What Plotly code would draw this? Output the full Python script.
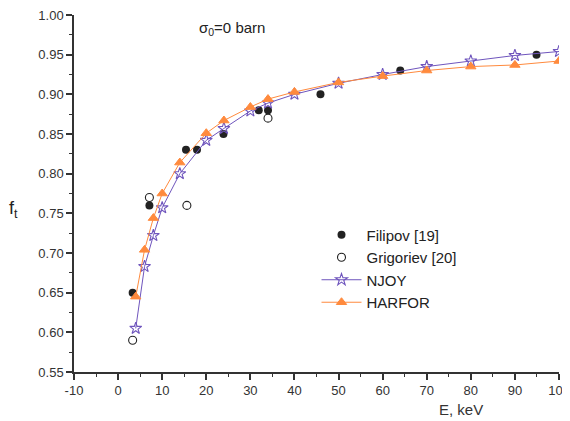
import plotly.graph_objects as go

# Filipov [19]
fil_E = [3.3, 7.1, 15.4, 17.9, 23.9, 31.9, 34.0, 45.9, 64.0, 94.9]
fil_f = [0.650, 0.760, 0.830, 0.830, 0.850, 0.880, 0.880, 0.900, 0.930, 0.950]
# Grigoriev [20]
gri_E = [3.3, 7.1, 15.6, 34.0]
gri_f = [0.590, 0.770, 0.760, 0.870]
# NJOY
njoy_E = [4, 6, 8, 10, 14, 20, 24, 30, 34, 40, 50, 60, 70, 80, 90, 100]
njoy_f = [0.605, 0.683, 0.722, 0.757, 0.800, 0.842, 0.857, 0.879, 0.889, 0.900,
          0.914, 0.925, 0.935, 0.942, 0.949, 0.954]
# HARFOR
har_E = [4, 6, 8, 10, 14, 20, 24, 30, 34, 40, 50, 60, 70, 80, 90, 100]
har_f = [0.645, 0.704, 0.744, 0.775, 0.814, 0.851, 0.867, 0.884, 0.894, 0.903,
         0.915, 0.923, 0.930, 0.935, 0.937, 0.942]

x_ticks = [-10, 0, 10, 20, 30, 40, 50, 60, 70, 80, 90, 100]
x_tick_labels = ["-10", "0", "10", "20", "30", "40", "50", "60", "70", "80", "90", "100"]
y_ticks = [0.55, 0.60, 0.65, 0.70, 0.75, 0.80, 0.85, 0.90, 0.95, 1.00]
y_tick_labels = ["0.55", "0.60", "0.65", "0.70", "0.75", "0.80", "0.85", "0.90", "0.95", "1.00"]

FONT = "Liberation Sans, Arial, sans-serif"
purple = "#6f55bd"
orange = "#ff8a3d"

fig = go.Figure()
fig.add_trace(go.Scatter(x=fil_E, y=fil_f, mode="markers", name="Filipov [19]",
                         marker=dict(symbol="circle", size=8, color="#222222")))
fig.add_trace(go.Scatter(x=gri_E, y=gri_f, mode="markers", name="Grigoriev [20]",
                         marker=dict(symbol="circle-open", size=8, color="#222222",
                                     line=dict(width=1.1))))
fig.add_trace(go.Scatter(x=njoy_E, y=njoy_f, mode="lines+markers", name="NJOY",
                         line=dict(color=purple, width=1),
                         marker=dict(symbol="star-open", size=9, color=purple,
                                     line=dict(width=1.1))))
fig.add_trace(go.Scatter(x=har_E, y=har_f, mode="lines+markers", name="HARFOR",
                         line=dict(color=orange, width=1),
                         marker=dict(symbol="triangle-up", size=9, color=orange,
                                     line=dict(width=1, color=orange))))

axis_common = dict(showline=True, linecolor="#333333", linewidth=1.5, mirror=False,
                   ticks="outside", ticklen=6, tickwidth=1.5, tickcolor="#333333",
                   showgrid=False, zeroline=False, automargin=False,
                   ticklabeloverflow="allow",
                   tickfont=dict(family=FONT, size=13, color="#333333"))

fig.update_xaxes(range=[-10, 100], tickvals=x_ticks, ticktext=x_tick_labels,
                 minor=dict(ticks="outside", ticklen=3, tickwidth=1.2, tickcolor="#333333", dtick=5, tick0=-10),
                 title=None, **axis_common)
fig.update_yaxes(range=[0.55, 1.00], tickvals=y_ticks, ticktext=y_tick_labels,
                 minor=dict(ticks="outside", ticklen=3, tickwidth=1.2, tickcolor="#333333", dtick=0.025, tick0=0.55),
                 title=None, **axis_common)

fig.add_annotation(text="f<sub>t</sub>", xref="paper", yref="paper", x=-0.124, y=0.454,
                   showarrow=False, font=dict(family=FONT, size=18, color="#222222"),
                   xanchor="center", yanchor="middle")
fig.add_annotation(text="E, keV", xref="paper", yref="paper", x=0.798, y=-0.075,
                   showarrow=False, font=dict(family=FONT, size=15, color="#333333"),
                   xanchor="center", yanchor="top")
fig.add_annotation(text="σ<sub>0</sub>=0 barn", xref="paper", yref="paper", x=0.326, y=0.963,
                   showarrow=False, font=dict(family=FONT, size=15, color="#222222"),
                   xanchor="center", yanchor="middle")

# page has an 8px body margin, so the figure is slightly smaller than the window
fig.update_layout(
    width=562, height=413,
    margin=dict(l=66, r=11, t=7, b=49, autoexpand=False),
    paper_bgcolor="white", plot_bgcolor="white",
    showlegend=True,
    legend=dict(x=0.50, y=0.43, xanchor="left", yanchor="top",
                bgcolor="rgba(0,0,0,0)", font=dict(family=FONT, size=15, color="#222222"),
                tracegroupgap=0, itemwidth=40),
)

fig.write_html("out.html")
